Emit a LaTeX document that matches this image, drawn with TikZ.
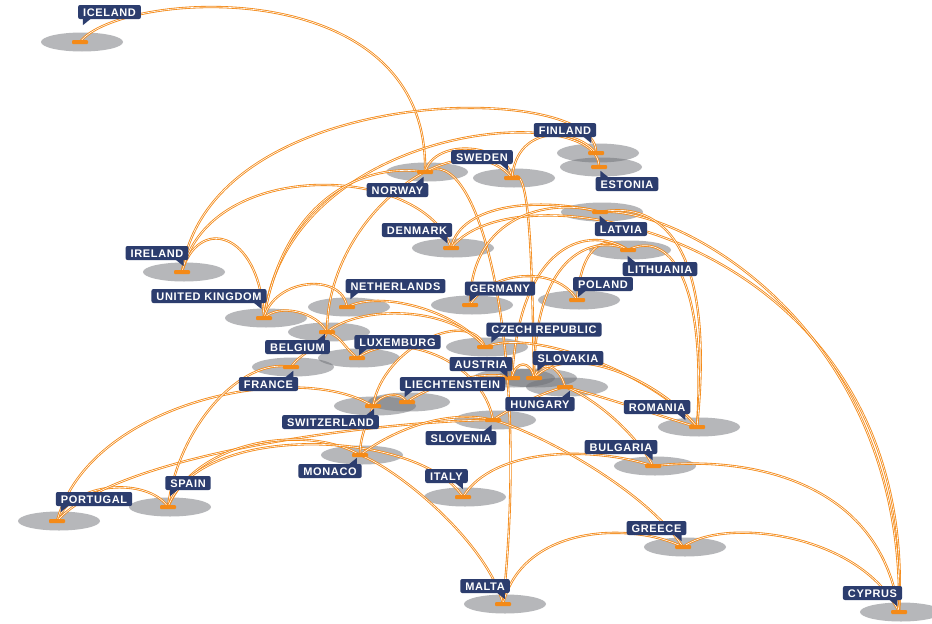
\documentclass[tikz,border=0pt]{standalone}
\usepackage{fontspec}
\newfontfamily\lblfont[LetterSpace=6]{Liberation Sans}
\usetikzlibrary{calc,shapes.geometric}

\definecolor{navy}{RGB}{44,61,110}
\definecolor{lnk}{RGB}{244,138,24}
\definecolor{shade}{RGB}{110,112,118}

\tikzset{
  link/.style={draw=lnk, double=white, line width=0.85pt, double distance=0.6pt},
  shadowell/.style={ellipse, fill=shade, fill opacity=0.5, minimum width=82pt,
    minimum height=19pt, inner sep=0pt},
  mk/.style={rectangle, rounded corners=1pt, fill=lnk, minimum width=16pt,
    minimum height=4pt, inner sep=0pt},
  lbl/.style={rectangle, rounded corners=2pt, fill=navy, text=white,
    font=\lblfont\bfseries\fontsize{11}{11}\selectfont, inner xsep=5pt, inner ysep=0pt,
    minimum height=14pt, text height=8pt, text depth=0pt},
  tipfill/.style={fill=navy}
}

% connector between two markers, with two control points
\newcommand\lk[4]{\draw[link] (#1) .. controls (#3) and (#4) .. (#2);}
% little pointers under/over the label boxes
\newcommand\ptbl[1]{\fill[tipfill] ($(#1.south west)+(5,-0.5)$) -- ++(8,0) -- ++(-8,6.5) -- cycle;}
\newcommand\ptbr[1]{\fill[tipfill] ($(#1.south east)+(-5,-0.5)$) -- ++(-8,0) -- ++(8,6.5) -- cycle;}
\newcommand\pttl[1]{\fill[tipfill] ($(#1.north west)+(5,0.5)$) -- ++(8,0) -- ++(-8,-6.5) -- cycle;}
\newcommand\pttr[1]{\fill[tipfill] ($(#1.north east)+(-5,0.5)$) -- ++(-8,0) -- ++(8,-6.5) -- cycle;}

\begin{document}
\begin{tikzpicture}[x=1pt,y=-1pt]
\fill[white] (0,0) rectangle (932,624);
\useasboundingbox (0,0) rectangle (932,624);

% country positions
\coordinate (ice) at (80,42);
\coordinate (nor) at (425,172);
\coordinate (swe) at (512,178);
\coordinate (fin) at (596,153);
\coordinate (est) at (599,167);
\coordinate (ire) at (182,272);
\coordinate (uk)  at (264,318);
\coordinate (net) at (347,307);
\coordinate (den) at (451,248);
\coordinate (lat) at (600,212);
\coordinate (lit) at (628,250);
\coordinate (ger) at (470,305);
\coordinate (pol) at (577,300);
\coordinate (cze) at (485,347);
\coordinate (bel) at (327,332);
\coordinate (lux) at (357,358);
\coordinate (fra) at (291,367);
\coordinate (aut) at (512,378);
\coordinate (svk) at (534,378);
\coordinate (lie) at (407,402);
\coordinate (swi) at (373,406);
\coordinate (hun) at (565,387);
\coordinate (rom) at (697,427);
\coordinate (slo) at (493,420);
\coordinate (bul) at (653,466);
\coordinate (ita) at (463,497);
\coordinate (mon) at (360,455);
\coordinate (spa) at (168,507);
\coordinate (por) at (57,521);
\coordinate (gre) at (683,547);
\coordinate (mal) at (503,604);
\coordinate (cyp) at (899,612);

% grey shadows
\foreach \c in {ice,nor,swe,fin,est,ire,uk,net,den,lat,lit,ger,pol,cze,bel,lux,fra,aut,svk,lie,swi,hun,rom,slo,bul,ita,mon,spa,por,gre,mal,cyp}
  \node[shadowell] (\c-s) at ($(\c)+(2,0)$) {};

% connections
\lk{ice}{nor}{120,-10}{430,-30}
\lk{ire}{fin}{210,80}{600,80}
\lk{uk}{est}{290,120}{600,100}
\lk{nor}{swe}{435,137}{507,143}
\lk{swe}{fin}{517,123}{576,128}
\lk{nor}{mal}{480,140}{530,350}
\lk{swe}{svk}{530,160}{532,260}
\lk{ire}{uk}{197,217}{259,228}
\lk{ire}{den}{210,155}{425,165}
\lk{uk}{nor}{284,198}{365,162}
\lk{bel}{swe}{327,212}{462,118}
\lk{uk}{net}{274,278}{342,272}
\lk{uk}{bel}{279,303}{317,312}
\lk{den}{lat}{461,203}{540,197}
\lk{den}{cyp}{520,160}{920,240}
\lk{lat}{cyp}{680,205}{905,330}
\lk{ger}{lat}{470,215}{550,197}
\lk{pol}{lit}{582,240}{608,235}
\lk{lit}{svk}{598,235}{534,248}
\lk{lit}{aut}{590,225}{520,240}
\lk{lit}{rom}{668,230}{707,277}
\lk{lat}{rom}{665,200}{715,250}
\lk{ger}{pol}{490,270}{557,265}
\lk{net}{cze}{380,290}{455,310}
\lk{cze}{rom}{535,327}{657,377}
\lk{svk}{rom}{570,340}{660,380}
\lk{hun}{rom}{605,397}{647,412}
\lk{hun}{svk}{560,365}{540,358}
\lk{aut}{svk}{515,360}{531,360}
\lk{lie}{aut}{427,387}{482,368}
\lk{swi}{lie}{381,394}{399,390}
\lk{cze}{swi}{470,307}{383,346}
\lk{bel}{lux}{342,337}{342,345}
\lk{bel}{fra}{322,347}{301,352}
\lk{bel}{cze}{360,305}{450,305}
\lk{por}{spa}{72,481}{148,477}
\lk{por}{swi}{90,400}{300,360}
\lk{por}{slo}{120,450}{400,420}
\lk{spa}{fra}{178,427}{241,357}
\lk{spa}{mon}{198,437}{310,425}
\lk{spa}{ita}{200,420}{420,430}
\lk{mon}{mal}{400,470}{488,544}
\lk{swi}{mon}{368,421}{360,435}
\lk{mon}{slo}{400,425}{453,410}
\lk{slo}{gre}{533,430}{643,487}
\lk{mal}{gre}{523,524}{633,522}
\lk{gre}{cyp}{723,517}{859,532}
\lk{bul}{cyp}{733,456}{879,472}
\lk{ita}{bul}{493,447}{593,446}
\lk{hun}{bul}{600,400}{640,440}
\lk{slo}{hun}{515,405}{550,390}
\lk{lux}{slo}{397,328}{483,360}

% orange markers
\foreach \c in {ice,nor,swe,fin,est,ire,uk,net,den,lat,lit,ger,pol,cze,bel,lux,fra,aut,svk,lie,swi,hun,rom,slo,bul,ita,mon,spa,por,gre,mal,cyp}
  \node[mk] (\c-m) at (\c) {};

% labels
\node[lbl] (ice-l) at (109.5,12) {ICELAND}; \ptbl{ice-l}
\node[lbl] (fin-l) at (565,130) {FINLAND}; \ptbr{fin-l}
\node[lbl] (est-l) at (627,184) {ESTONIA}; \pttl{est-l}
\node[lbl] (swe-l) at (482,157) {SWEDEN}; \ptbr{swe-l}
\node[lbl] (nor-l) at (397.5,190) {NORWAY}; \pttr{nor-l}
\node[lbl] (ire-l) at (157,253) {IRELAND}; \ptbr{ire-l}
\node[lbl] (uk-l)  at (209,296) {UNITED KINGDOM}; \ptbr{uk-l}
\node[lbl] (net-l) at (395.5,286) {NETHERLANDS}; \ptbl{net-l}
\node[lbl] (den-l) at (417,230) {DENMARK}; \ptbr{den-l}
\node[lbl] (lat-l) at (621,229) {LATVIA}; \pttl{lat-l}
\node[lbl] (lit-l) at (660,269) {LITHUANIA}; \pttl{lit-l}
\node[lbl] (ger-l) at (500,288.5) {GERMANY}; \ptbl{ger-l}
\node[lbl] (pol-l) at (603,284) {POLAND}; \ptbl{pol-l}
\node[lbl] (cze-l) at (544,329.5) {CZECH REPUBLIC}; \ptbl{cze-l}
\node[lbl] (bel-l) at (297.5,347) {BELGIUM}; \pttr{bel-l}
\node[lbl] (lux-l) at (397.5,342) {LUXEMBURG}; \ptbl{lux-l}
\node[lbl] (fra-l) at (268.5,384) {FRANCE}; \pttr{fra-l}
\node[lbl] (aut-l) at (481,364) {AUSTRIA}; \ptbr{aut-l}
\node[lbl] (svk-l) at (568,358) {SLOVAKIA}; \ptbl{svk-l}
\node[lbl] (lie-l) at (452.5,384) {LIECHTENSTEIN}; \ptbl{lie-l}
\node[lbl] (swi-l) at (330.5,422) {SWITZERLAND}; \pttr{swi-l}
\node[lbl] (hun-l) at (540,404) {HUNGARY}; \pttr{hun-l}
\node[lbl] (rom-l) at (657,407) {ROMANIA}; \ptbr{rom-l}
\node[lbl] (slo-l) at (461,438) {SLOVENIA}; \pttr{slo-l}
\node[lbl] (bul-l) at (621,447) {BULGARIA}; \ptbr{bul-l}
\node[lbl] (ita-l) at (446.5,476) {ITALY}; \ptbr{ita-l}
\node[lbl] (mon-l) at (330,471) {MONACO}; \pttr{mon-l}
\node[lbl] (spa-l) at (188,483) {SPAIN}; \ptbl{spa-l}
\node[lbl] (por-l) at (94,499) {PORTUGAL}; \ptbl{por-l}
\node[lbl] (gre-l) at (656.5,528) {GREECE}; \ptbr{gre-l}
\node[lbl] (mal-l) at (485,586) {MALTA}; \ptbr{mal-l}
\node[lbl] (cyp-l) at (872.5,593) {CYPRUS}; \ptbr{cyp-l}
\end{tikzpicture}
\end{document}
